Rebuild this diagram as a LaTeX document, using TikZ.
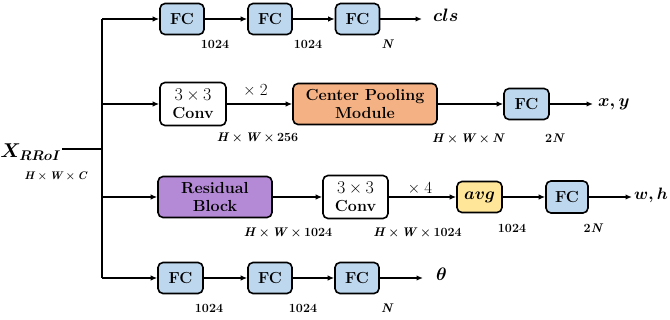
\RequirePackage{fix-cm}
\documentclass[tikz,border=0pt]{standalone}
\usetikzlibrary{arrows.meta}
\definecolor{fcblue}{RGB}{189,215,238}
\definecolor{cporange}{RGB}{244,177,131}
\definecolor{respurple}{RGB}{180,137,214}
\definecolor{avgyellow}{RGB}{255,230,153}
\newcommand\tms{\hspace{0.2em}\texttimes\hspace{0.2em}}
\newcommand\vi[1]{\textit{#1}}
\newcommand\threebythree{{\fontsize{18}{18}\selectfont\mdseries 3\tms 3}}
\begin{document}
\begin{tikzpicture}[x=1pt,y=-1pt,
  box/.style={draw, line width=1.6pt, rounded corners=5pt, align=center, inner sep=0pt,
              font=\fontsize{16}{18}\selectfont\bfseries},
  fc/.style={box, fill=fcblue, minimum width=44pt, minimum height=31pt},
  lab/.style={font=\fontsize{12.5}{14}\selectfont\bfseries, inner sep=0pt},
  outl/.style={font=\fontsize{18}{20}\selectfont\boldmath, anchor=mid west, inner sep=0pt},
  mult/.style={font=\fontsize{17}{19}\selectfont, inner sep=0pt},
  arr/.style={line width=1.5pt, -{Latex[length=6.5pt,width=5.5pt]}},
  ln/.style={line width=1.5pt}]
\useasboundingbox (0,0) rectangle (670,320);

% input
\node[anchor=base east, inner sep=0pt, font=\fontsize{20}{24}\selectfont\boldmath] (xin) at (61,158) {$X_{RRoI}$};
\node[lab, font=\fontsize{11}{12}\selectfont\bfseries] (xdim) at (56,176) {\vi{H}\tms\vi{W}\tms\vi{C}};
\coordinate (xl) at (62,149);
\coordinate (tx) at (102,149);
\coordinate (t1) at (102,19);
\coordinate (t2) at (102,104);
\coordinate (t3) at (102,197);
\coordinate (t4) at (102,278);
\draw[ln] (xl) -- (tx);
\draw[ln] (t1) -- (t4);

% row 1
\node[fc] (a1) at (182,19) {FC};
\node[fc] (a2) at (270,19) {FC};
\node[fc] (a3) at (357.5,19) {FC};
\coordinate (ae) at (422,19);
\draw[arr] (t1) -- (a1.west);
\draw[arr] (a1.east) -- (a2.west);
\draw[arr] (a2.east) -- (a3.west);
\draw[arr] (a3.east) -- (ae);
\node[outl] (cls) at (433,19) {$cls$};
\node[lab] (la1) at (215,44.5) {1024};
\node[lab] (la2) at (308,44.5) {1024};
\node[lab] (la3) at (388,44.5) {\vi{N}};

% row 2
\node[box, fill=white, minimum width=66pt, minimum height=43pt] (b1) at (193,104)
  {\threebythree\\Conv};
\node[box, fill=cporange, minimum width=144pt, minimum height=41pt] (b2) at (365,104)
  {Center Pooling\\Module};
\node[fc, minimum width=45pt] (b3) at (526.5,104) {FC};
\coordinate (be) at (593,104);
\draw[arr] (t2) -- (b1.west);
\draw[arr] (b1.east) -- (b2.west);
\draw[arr] (b2.east) -- (b3.west);
\draw[arr] (b3.east) -- (be);
\node[outl, font=\fontsize{17.5}{20}\selectfont\boldmath] (xy) at (598,104) {$x,y$};
\node[mult] (m2) at (255.5,90) {\texttimes\hspace{0.25em}2};
\node[lab] (lb1) at (257.5,137.5) {\vi{H}\tms\vi{W}\tms256};
\node[lab] (lb2) at (468.5,138) {\vi{H}\tms\vi{W}\tms\vi{N}};
\node[lab] (lb3) at (555,138) {2\vi{N}};

% row 3
\node[box, fill=respurple, minimum width=114pt, minimum height=41pt] (c1) at (215,197)
  {Residual\\Block};
\node[box, fill=white, minimum width=65pt, minimum height=43pt] (c2) at (355.5,197)
  {\threebythree\\Conv};
\node[box, fill=avgyellow, minimum width=45pt, minimum height=31pt, font=\fontsize{17}{19}\selectfont\boldmath] (c3) at (479.5,197) {$avg$};
\node[fc, minimum width=42pt, minimum height=32pt] (c4) at (567,197) {FC};
\coordinate (ce) at (632,197);
\draw[arr] (t3) -- (c1.west);
\draw[arr] (c1.east) -- (c2.west);
\draw[arr] (c2.east) -- (c3.west);
\draw[arr] (c3.east) -- (c4.west);
\draw[arr] (c4.east) -- (ce);
\node[outl, font=\fontsize{16.5}{19}\selectfont\boldmath] (wh) at (634,197) {$w,h$};
\node[mult] (m4) at (420,188) {\texttimes\hspace{0.25em}4};
\node[lab] (lc1) at (288,232) {\vi{H}\tms\vi{W}\tms1024};
\node[lab] (lc2) at (417.5,232) {\vi{H}\tms\vi{W}\tms1024};
\node[lab] (lc3) at (512,228) {1024};
\node[lab] (lc4) at (593.5,228) {2\vi{N}};

% row 4
\node[fc, minimum width=45pt] (d1) at (180.5,278) {FC};
\node[fc] (d2) at (270,278) {FC};
\node[fc] (d3) at (357,278) {FC};
\coordinate (de) at (423,278);
\draw[arr] (t4) -- (d1.west);
\draw[arr] (d1.east) -- (d2.west);
\draw[arr] (d2.east) -- (d3.west);
\draw[arr] (d3.east) -- (de);
\node[outl] (th) at (436,278) {$\theta$};
\node[lab] (ld1) at (209,308) {1024};
\node[lab] (ld2) at (303,308) {1024};
\node[lab] (ld3) at (387.5,308) {\vi{N}};
\end{tikzpicture}
\end{document}
